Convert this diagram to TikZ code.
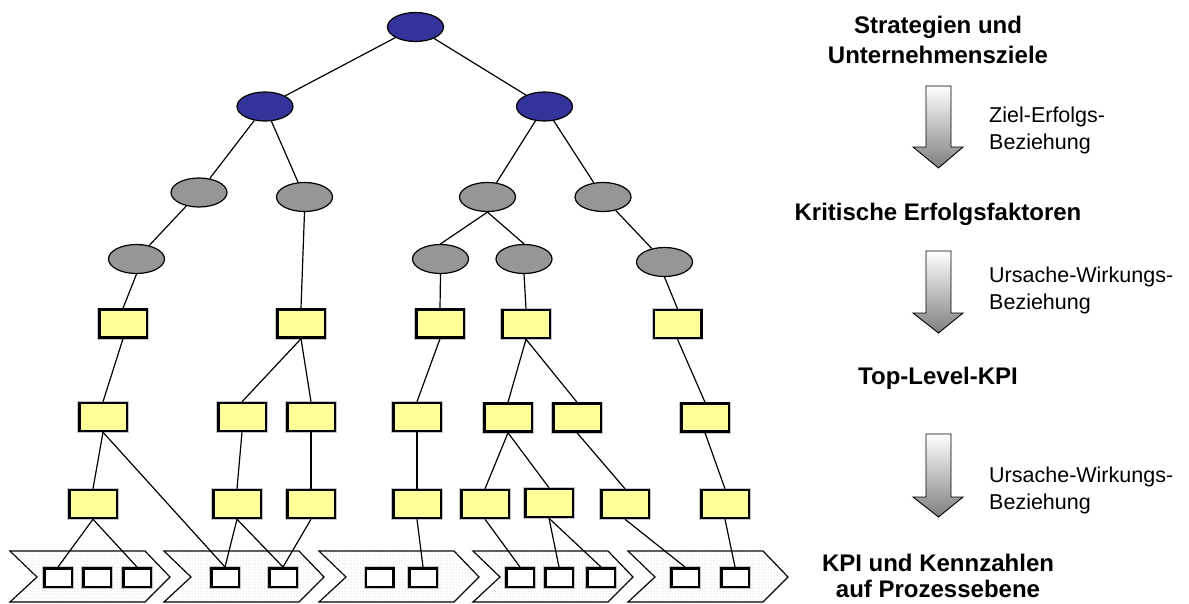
\documentclass[tikz,border=0pt]{standalone}
\usepackage{fontspec}
\setmainfont{Liberation Sans}
\usetikzlibrary{shapes.geometric,patterns}
\definecolor{zielblau}{RGB}{51,51,153}
\definecolor{faktorgrau}{RGB}{150,150,150}
\definecolor{kpigelb}{RGB}{255,255,153}
\begin{document}
\begin{tikzpicture}[x=1pt, y=-1pt,
    ziel/.style={ellipse, draw, fill=zielblau, line width=1.2pt,
        minimum width=56pt, minimum height=29pt, inner sep=0pt},
    faktor/.style={ziel, fill=faktorgrau},
    kpi/.style={rectangle, draw, fill=kpigelb, line width=2.5pt,
        minimum width=47.5pt, minimum height=28pt, inner sep=0pt,
        preaction={draw=gray!45, line width=4pt}},
    kennzahl/.style={kpi, fill=white, minimum width=27.5pt, minimum height=18.5pt},
    kette/.style={draw, line width=1.2pt, fill=white,
        postaction={pattern=dots, pattern color=gray!45}},
    pfeil/.style={draw, line width=0.9pt, top color=white, bottom color=gray},
    ebene/.style={font=\bfseries\fontsize{24}{30}\selectfont, align=center,
        anchor=north, inner sep=0pt},
    bez/.style={font=\fontsize{21.5}{27}\selectfont, align=left,
        anchor=north west, inner sep=0pt}]
    \useasboundingbox (0, 0) rectangle (1189, 603);

    % Prozesskette
    \foreach \x in {10, 164, 319, 473, 628}
        \draw[kette] (\x, 551) -- (\x+135, 551) -- (\x+160, 577)
            -- (\x+135, 602) -- (\x, 602) -- (\x+27, 577) -- cycle;

    % Baum
    \node[ziel] (s0) at (415.5, 27) {};
    \node[ziel] (s1) at (265, 106.5) {};
    \node[ziel] (s2) at (544.5, 106.5) {};
    \foreach \n/\x/\y in {e1/199/192.5, e2/304.5/197, e3/487.5/197, e4/603/197,
            f1/136.5/259, f2/440.5/259, f3/524/259, f4/664.5/262}
        \node[faktor] (\n) at (\x, \y) {};
    \foreach \n/\x/\y in {t1/123/323.5, t2/301/323.5, t3/440/323.5, t4/526/324,
            t5/677.5/324, m1/103/417, m2/242/417, m3/311/417, m4/417/417,
            m5/508/417.5, m6/577/417.5, m7/705/417.5, n1/93/504, n2/237/504,
            n3/311/504, n4/417/504, n5/485/504, n6/549/503, n7/625/504, n8/725/504}
        \node[kpi] (\n) at (\x, \y) {};
    \foreach \n/\x in {p1/58, p2/97, p3/137, p4/225, p5/283, p6/379.5, p7/423,
            p8/520, p9/559, p10/601, p11/685, p12/735}
        \node[kennzahl] (\n) at (\x, 577.5) {};

    \begin{scope}[line width=1.2pt]
        \foreach \a/\b in {s0/s1, s0/s2, s1/e1, s1/e2, s2/e3, s2/e4, e1/f1, e4/f4}
            \draw (\a) -- (\b);
        \foreach \a/\b in {e2/t2, e3/f2, e3/f3, f1/t1, f2/t3, f3/t4, f4/t5,
                t1/m1, t2/m2, t2/m3, t3/m4, t4/m5, t4/m6, t5/m7,
                m1/n1, m1/p4, m2/n2, m3/n3, m4/n4, m5/n5, m5/n6, m6/n7, m7/n8,
                n1/p1, n1/p3, n2/p4, n2/p5, n3/p5, n4/p7, n5/p8, n6/p9, n6/p10,
                n7/p11, n8/p12}
            \draw (\a.south) -- (\b.north);
    \end{scope}

    % Ebenen
    \node[ebene] (strat) at (938, 16) {Strategien und\\Unternehmensziele};
    \node[ebene] (kef) at (938, 203) {Kritische Erfolgsfaktoren};
    \node[ebene] (top) at (938, 367) {Top-Level-KPI};
    \node[ebene, font=\bfseries\fontsize{24}{26}\selectfont] (proz) at (938, 554)
        {KPI und Kennzahlen\\auf Prozessebene};

    \foreach \a/\b/\c in {86/147/168, 251/313/333, 434/497/517}
        \draw[pfeil] (926, \a) -- (951, \a) -- (951, \b) -- (963, \b)
            -- (938.5, \c) -- (913, \b) -- (926, \b) -- cycle;
    \node[bez] (zeb) at (989, 107) {Ziel-Erfolgs-\\Beziehung};
    \node[bez] (uwb1) at (989, 267) {Ursache-Wirkungs-\\Beziehung};
    \node[bez] (uwb2) at (989, 467) {Ursache-Wirkungs-\\Beziehung};
\end{tikzpicture}
\end{document}
